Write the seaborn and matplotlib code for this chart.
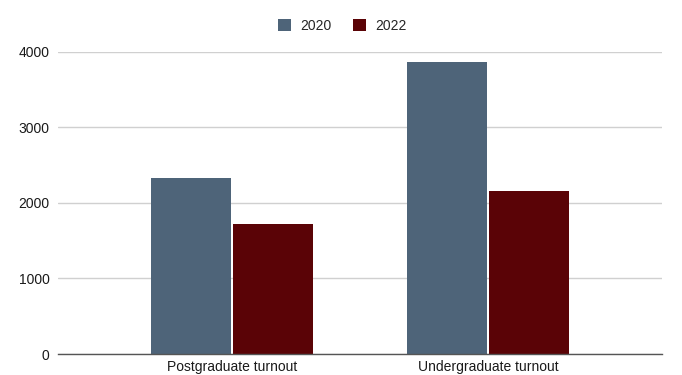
import numpy as np
import pandas as pd
import matplotlib
matplotlib.use("Agg")
import matplotlib.pyplot as plt
import seaborn as sns

# data
categories = ["Postgraduate turnout", "Undergraduate turnout"]
years = ["2020", "2022"]
values_2020 = [2330, 3860]
values_2022 = [1725, 2160]

COLORS = {"2020": "#4e6479", "2022": "#5a0306"}
GRID = "#d0d0d0"
AXIS = "#555555"

df = pd.DataFrame({
    "category": categories * 2,
    "year": [years[0]] * 2 + [years[1]] * 2,
    "value": values_2020 + values_2022,
})

sns.set_theme(style="white")
plt.rcParams["font.family"] = ["Liberation Sans", "DejaVu Sans"]

fig = plt.figure(figsize=(6.82, 3.75), dpi=100)
ax = fig.add_axes([0.085, 0.056, 0.886, 0.806])

sns.barplot(data=df, x="category", y="value", hue="year", palette=COLORS,
            width=0.64, gap=0.03, ax=ax, zorder=3, saturation=1, linewidth=0)

ax.set_xlim(-0.68, 1.68)
ax.set_ylim(0, 4000)
ax.set_yticks([0, 1000, 2000, 3000, 4000])
ax.yaxis.grid(True, color=GRID, linewidth=1, zorder=0)
ax.set_xlabel("")
ax.set_ylabel("")
for s in ["top", "right", "left"]:
    ax.spines[s].set_visible(False)
ax.spines["bottom"].set_color(AXIS)
ax.spines["bottom"].set_linewidth(1)
ax.spines["bottom"].set_zorder(4)
ax.tick_params(axis="both", length=0, labelsize=10, colors="#1a1a1a")
ax.tick_params(axis="y", pad=6)
ax.tick_params(axis="x", pad=4)

handles, labels = ax.get_legend_handles_labels()
ax.legend(handles, labels, loc="center", bbox_to_anchor=(0.502, 0.932),
          bbox_transform=fig.transFigure, ncol=2, frameon=False,
          fontsize=10, handlelength=0.95, handleheight=0.95,
          handletextpad=0.7, columnspacing=1.5)

fig.savefig("out.png", dpi=100, facecolor="white")
